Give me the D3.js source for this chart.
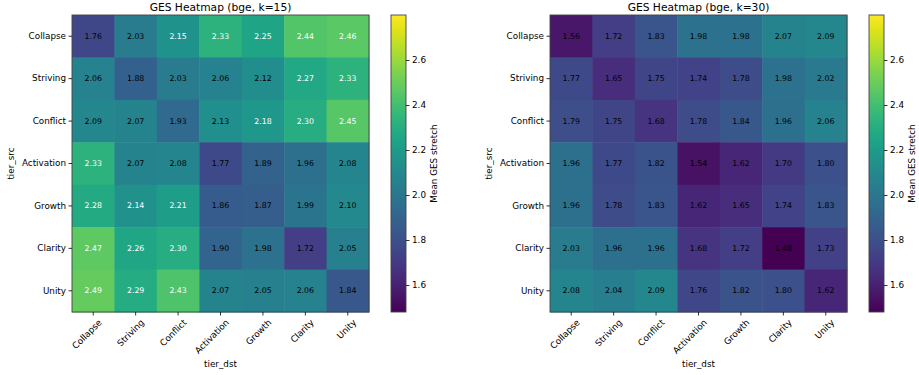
<!DOCTYPE html>
<html><head><meta charset="utf-8">
<script src="https://cdn.jsdelivr.net/npm/d3@7"></script>
<style>body{margin:0;background:#fff}svg{font-family:"DejaVu Sans",sans-serif}</style>
</head><body><svg id="c" width="919" height="375"></svg>
<script>
const tiers = ["Collapse","Striving","Conflict","Activation","Growth","Clarity","Unity"];
const valuesK15 = [
  [1.76,2.03,2.15,2.33,2.25,2.44,2.46],
  [2.06,1.88,2.03,2.06,2.12,2.27,2.33],
  [2.09,2.07,1.93,2.13,2.18,2.30,2.45],
  [2.33,2.07,2.08,1.77,1.89,1.96,2.08],
  [2.28,2.14,2.21,1.86,1.87,1.99,2.10],
  [2.47,2.26,2.30,1.90,1.98,1.72,2.05],
  [2.49,2.29,2.43,2.07,2.05,2.06,1.84]
];
const valuesK30 = [
  [1.56,1.72,1.83,1.98,1.98,2.07,2.09],
  [1.77,1.65,1.75,1.74,1.78,1.98,2.02],
  [1.79,1.75,1.68,1.78,1.84,1.96,2.06],
  [1.96,1.77,1.82,1.54,1.62,1.70,1.80],
  [1.96,1.78,1.83,1.62,1.65,1.74,1.83],
  [2.03,1.96,1.96,1.68,1.72,1.48,1.73],
  [2.08,2.04,2.09,1.76,1.82,1.80,1.62]
];
const colorTicks = [1.6,1.8,2.0,2.2,2.4,2.6];
const vmin = 1.48, vmax = 2.80;
const titles = ["GES Heatmap (bge, k=15)","GES Heatmap (bge, k=30)"];

const svg = d3.select("#c");
const color = d3.scaleSequential(d3.interpolateViridis).domain([vmin,vmax]);
const thresh = (vmin+vmax)/2;
const FS = 8.8;

function panel(ox, data, title){
  const g = svg.append("g").attr("transform",`translate(${ox},0)`);
  const top=15, size=297;
  const x = d3.scaleBand().domain(tiers).range([0,size]);
  const y = d3.scaleBand().domain(tiers).range([top,top+size]);
  const cells = [];
  data.forEach((row,i)=>row.forEach((v,j)=>cells.push({r:tiers[i],c:tiers[j],v})));
  g.selectAll("rect.cell").data(cells).enter().append("rect")
    .attr("x",d=>x(d.c)).attr("y",d=>y(d.r))
    .attr("width",x.bandwidth()+0.5).attr("height",y.bandwidth()+0.5)
    .attr("fill",d=>color(d.v));
  g.selectAll("text.val").data(cells).enter().append("text")
    .attr("x",d=>x(d.c)+x.bandwidth()/2).attr("y",d=>y(d.r)+y.bandwidth()/2)
    .attr("text-anchor","middle").attr("dominant-baseline","central")
    .attr("font-size",7.8).attr("fill",d=>d.v>thresh?"#fff":"#000")
    .text(d=>d.v.toFixed(2));
  g.append("rect").attr("x",0).attr("y",top).attr("width",size).attr("height",size)
    .attr("fill","none").attr("stroke","#444").attr("stroke-width",0.9);
  // y axis
  const ya = g.append("g").call(d3.axisLeft(y).tickSize(3.5).tickPadding(2.5));
  ya.select(".domain").remove();
  ya.selectAll("text").attr("font-size",FS).attr("fill","#000").attr("font-family","DejaVu Sans");
  ya.selectAll("line").attr("stroke","#000").attr("stroke-width",0.8);
  // x axis
  const xa = g.append("g").attr("transform",`translate(0,${top+size})`).call(d3.axisBottom(x).tickSize(3.5).tickPadding(2));
  xa.select(".domain").remove();
  xa.selectAll("line").attr("stroke","#000").attr("stroke-width",0.8);
  xa.selectAll("text").attr("font-size",FS).attr("fill","#000").attr("font-family","DejaVu Sans")
    .attr("text-anchor","end").attr("dy","0.35em")
    .attr("transform","translate(3,5) rotate(-45)");
  g.append("text").attr("x",size/2).attr("y",11).attr("text-anchor","middle")
    .attr("font-size",10.7).text(title);
  g.append("text").attr("x",size/2).attr("y",367).attr("text-anchor","middle")
    .attr("font-size",FS).text("tier_dst");
  g.append("text").attr("transform",`translate(-58,${top+size/2}) rotate(-90)`)
    .attr("text-anchor","middle").attr("font-size",FS).text("tier_src");
  // colorbar
  const cbx = size+22, cbw = 15;
  const cy = d3.scaleLinear().domain([vmin,vmax]).range([top+size,top]);
  const gid = "grad"+ox;
  const grad = svg.append("defs").append("linearGradient").attr("id",gid)
    .attr("x1",0).attr("y1",1).attr("x2",0).attr("y2",0);
  d3.range(0,1.0001,0.05).forEach(t=>grad.append("stop").attr("offset",t).attr("stop-color",d3.interpolateViridis(t)));
  g.append("rect").attr("x",cbx).attr("y",top).attr("width",cbw).attr("height",size)
    .attr("fill",`url(#${gid})`).attr("stroke","#444").attr("stroke-width",0.9);
  const ca = g.append("g").attr("transform",`translate(${cbx+cbw},0)`)
    .call(d3.axisRight(cy).tickValues(colorTicks).tickFormat(d3.format(".1f")).tickSize(3.5).tickPadding(2.5));
  ca.select(".domain").remove();
  ca.selectAll("line").attr("stroke","#000").attr("stroke-width",0.8);
  ca.selectAll("text").attr("font-size",FS).attr("fill","#000").attr("font-family","DejaVu Sans");
  g.append("text").attr("transform",`translate(${cbx+cbw+31},${top+size/2}) rotate(-90)`)
    .attr("text-anchor","middle").attr("font-size",FS).text("Mean GES stretch");
}
panel(72, valuesK15, titles[0]);
panel(550, valuesK30, titles[1]);
</script></body></html>
